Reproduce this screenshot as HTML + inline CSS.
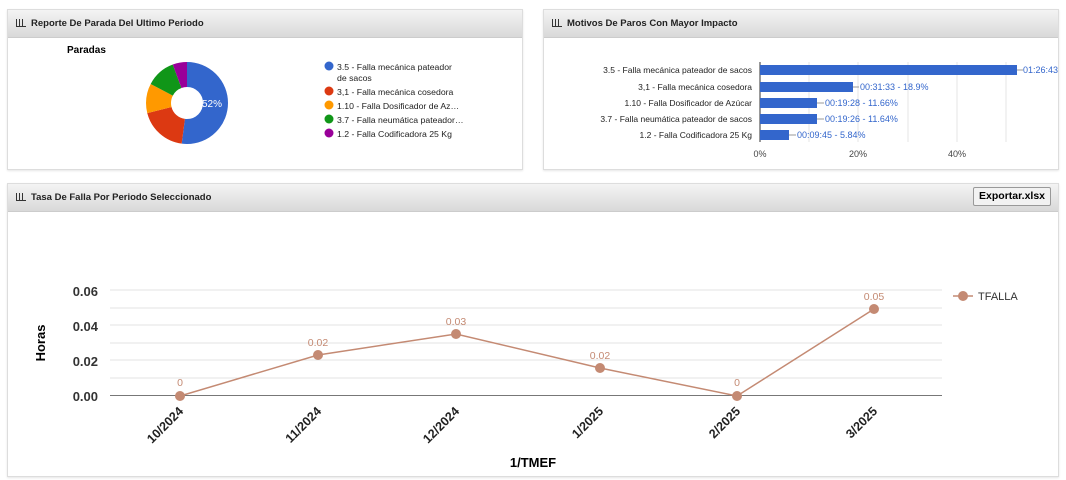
<!DOCTYPE html>
<html><head><meta charset="utf-8"><style>
body{margin:0;width:1066px;height:480px;background:#fff;font-family:"Liberation Sans",sans-serif;position:relative;overflow:hidden}
.p{position:absolute;border:1px solid #ddd;background:#fff;box-shadow:0 1px 2px rgba(0,0,0,.1)}
.h{height:27px;background:linear-gradient(#f4f4f4,#d9d9d9);border-bottom:1px solid #ccc;font-size:9.5px;font-weight:bold;color:#222;line-height:27px;padding-left:8px}
.h i{display:inline-block;width:9px;height:7px;border-left:1px solid #333;border-bottom:1px solid #333;margin-right:5px;font-style:normal;vertical-align:-1px;background:linear-gradient(90deg,transparent 2px,#333 2px,#333 3px,transparent 3px,transparent 5px,#333 5px,#333 6px,transparent 6px)}
svg text{font-family:"Liberation Sans",sans-serif}
</style></head><body>
<div class="p" style="left:7px;top:9px;width:514px;height:159px"><div class="h"><i></i>Reporte De Parada Del Ultimo Periodo</div></div>
<div class="p" style="left:543px;top:9px;width:514px;height:159px"><div class="h"><i></i>Motivos De Paros Con Mayor Impacto</div></div>
<div class="p" style="left:7px;top:183px;width:1050px;height:292px"><div class="h"><i></i>Tasa De Falla Por Periodo Seleccionado</div>
<div style="position:absolute;right:7px;top:3px;height:17px;padding:0 5px;border:1px solid #999;background:#f2f2f2;font-size:10.5px;font-weight:bold;line-height:17px;border-radius:2px">Exportar.xlsx</div></div>
<svg width="1066" height="480" style="position:absolute;left:0;top:0">
<text x="67" y="53" font-size="10" font-weight="bold" fill="#000">Paradas</text>
<g transform="rotate(-90 187 103)" fill="none" stroke-width="25">
<circle cx="187" cy="103" r="28.5" stroke="#3366cc" stroke-dasharray="93.12 200"/>
<circle cx="187" cy="103" r="28.5" stroke="#dc3912" stroke-dasharray="33.84 200" stroke-dashoffset="-93.12"/>
<circle cx="187" cy="103" r="28.5" stroke="#ff9900" stroke-dasharray="20.88 200" stroke-dashoffset="-126.96"/>
<circle cx="187" cy="103" r="28.5" stroke="#109618" stroke-dasharray="20.84 200" stroke-dashoffset="-147.84"/>
<circle cx="187" cy="103" r="28.5" stroke="#990099" stroke-dasharray="10.4 200" stroke-dashoffset="-168.68"/>
</g>
<text x="202" y="107" font-size="10" fill="#fff">52%</text>
<g font-size="8.7" fill="#222">
<circle cx="329" cy="66" r="4.5" fill="#3366cc"/><text x="337" y="70">3.5 - Falla mecánica pateador</text><text x="337" y="81">de sacos</text>
<circle cx="329" cy="91" r="4.5" fill="#dc3912"/><text x="337" y="95">3,1 - Falla mecánica cosedora</text>
<circle cx="329" cy="105" r="4.5" fill="#ff9900"/><text x="337" y="109">1.10 - Falla Dosificador de Az…</text>
<circle cx="329" cy="119" r="4.5" fill="#109618"/><text x="337" y="123">3.7 - Falla neumática pateador…</text>
<circle cx="329" cy="133" r="4.5" fill="#990099"/><text x="337" y="137">1.2 - Falla Codificadora 25 Kg</text>
</g>
<g stroke="#e6e6e6"><line x1="809" y1="62" x2="809" y2="142"/><line x1="858" y1="62" x2="858" y2="142"/><line x1="908" y1="62" x2="908" y2="142"/><line x1="957" y1="62" x2="957" y2="142"/><line x1="1006" y1="62" x2="1006" y2="142"/></g>
<line x1="760" y1="62" x2="760" y2="142" stroke="#333"/>
<g fill="#3366cc"><rect x="760" y="65" width="257" height="10"/><rect x="760" y="82" width="93" height="10"/><rect x="760" y="98" width="57" height="10"/><rect x="760" y="114" width="57" height="10"/><rect x="760" y="130" width="29" height="10"/></g>
<g font-size="8.5" fill="#222" text-anchor="end"><text x="752" y="73">3.5 - Falla mecánica pateador de sacos</text><text x="752" y="90">3,1 - Falla mecánica cosedora</text><text x="752" y="106">1.10 - Falla Dosificador de Azúcar</text><text x="752" y="122">3.7 - Falla neumática pateador de sacos</text><text x="752" y="138">1.2 - Falla Codificadora 25 Kg</text></g>
<g font-size="9" fill="#3366cc"><text x="1023" y="73">01:26:43</text><text x="860" y="90">00:31:33 - 18.9%</text><text x="825" y="106">00:19:28 - 11.66%</text><text x="825" y="122">00:19:26 - 11.64%</text><text x="797" y="138">00:09:45 - 5.84%</text></g>
<g stroke="#999"><line x1="1017" y1="70" x2="1023" y2="70"/><line x1="853" y1="87" x2="859" y2="87"/><line x1="817" y1="103" x2="824" y2="103"/><line x1="817" y1="119" x2="824" y2="119"/><line x1="789" y1="135" x2="796" y2="135"/></g>
<g font-size="9" fill="#444" text-anchor="middle"><text x="760" y="157">0%</text><text x="858" y="157">20%</text><text x="957" y="157">40%</text></g>
<g stroke="#e3e3e3"><line x1="110" y1="290" x2="942" y2="290"/><line x1="110" y1="308" x2="942" y2="308"/><line x1="110" y1="325" x2="942" y2="325"/><line x1="110" y1="343" x2="942" y2="343"/><line x1="110" y1="360" x2="942" y2="360"/><line x1="110" y1="378" x2="942" y2="378"/></g>
<line x1="110" y1="395.5" x2="942" y2="395.5" stroke="#777"/>
<g font-size="13" font-weight="bold" fill="#333" text-anchor="end"><text x="98" y="296">0.06</text><text x="98" y="331">0.04</text><text x="98" y="366">0.02</text><text x="98" y="401">0.00</text></g>
<text transform="translate(45 343) rotate(-90)" font-size="13" font-weight="bold" text-anchor="middle">Horas</text>
<polyline points="180,396 318,355 456,334 600,368 737,396 874,309" fill="none" stroke="#c48a73" stroke-width="1.5"/>
<g fill="#c48a73"><circle cx="180" cy="396" r="5"/><circle cx="318" cy="355" r="5"/><circle cx="456" cy="334" r="5"/><circle cx="600" cy="368" r="5"/><circle cx="737" cy="396" r="5"/><circle cx="874" cy="309" r="5"/></g>
<g font-size="10.5" fill="#c48a73" text-anchor="middle"><text x="180" y="386">0</text><text x="318" y="346">0.02</text><text x="456" y="325">0.03</text><text x="600" y="359">0.02</text><text x="737" y="386">0</text><text x="874" y="300">0.05</text></g>
<g font-size="12.5" font-weight="bold" fill="#222" text-anchor="end">
<text transform="translate(184 412) rotate(-45)">10/2024</text><text transform="translate(322 412) rotate(-45)">11/2024</text><text transform="translate(460 412) rotate(-45)">12/2024</text><text transform="translate(604 412) rotate(-45)">1/2025</text><text transform="translate(741 412) rotate(-45)">2/2025</text><text transform="translate(878 412) rotate(-45)">3/2025</text></g>
<text x="533" y="467" font-size="13" font-weight="bold" text-anchor="middle">1/TMEF</text>
<line x1="953" y1="296" x2="973" y2="296" stroke="#c48a73" stroke-width="1.5"/><circle cx="963" cy="296" r="5" fill="#c48a73"/>
<text x="978" y="300" font-size="11" fill="#333">TFALLA</text>
</svg>
</body></html>
